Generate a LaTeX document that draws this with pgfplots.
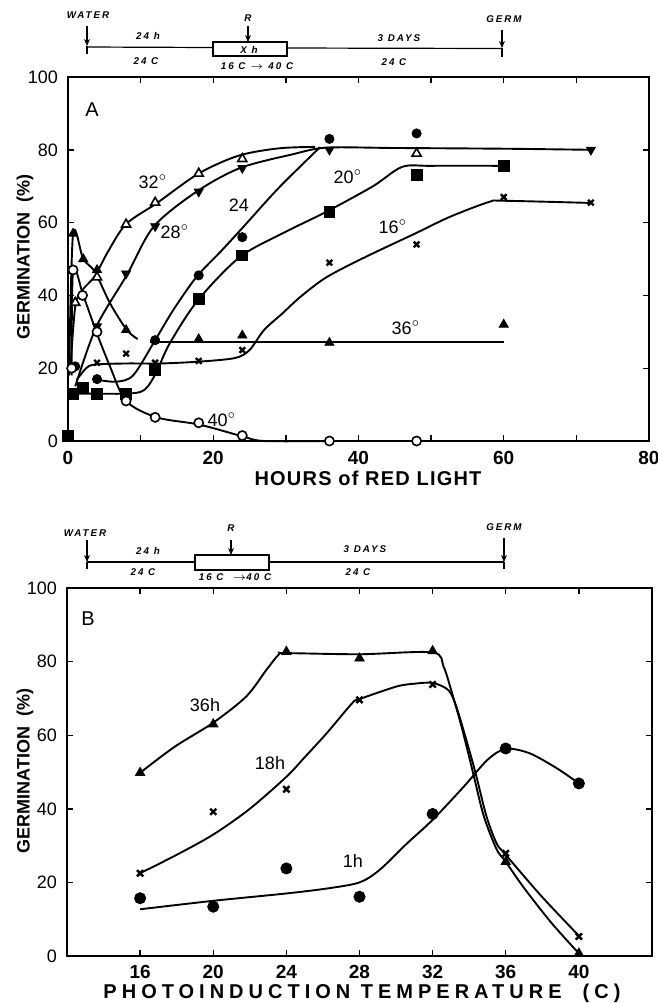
\documentclass[border=0pt]{standalone}
\usepackage{fontspec}
\setmainfont{Liberation Sans}
\usepackage{pgfplots}
\pgfplotsset{compat=1.18}
\usetikzlibrary{arrows.meta}
\newfontfamily\tlfont[LetterSpace=20]{Liberation Sans}
\newfontfamily\labfont[LetterSpace=6]{Liberation Sans}
\newfontfamily\labfontb[LetterSpace=25]{Liberation Sans}

\pgfplotsset{
  panel/.style={
    scale only axis, clip=false,
    axis line style={line width=1.1pt},
    tick align=inside, major tick length=3pt, minor tick length=3pt,
    tick style={line width=0.7pt, black},
    ymin=0, ymax=100, ytick={0,20,...,100},
    /pgf/number format/assume math mode=true,
    yticklabel style={font=\fontsize{9}{10}\selectfont, xshift=-1.5pt},
    xticklabel style={font=\fontsize{9.5}{10}\selectfont\bfseries, yshift=-1.5pt},
  },
  crv/.style={black, line width=0.95pt, smooth, no markers},
  pts/.style={only marks, black, mark size=#1},
  pts/.default=2.6pt,
}

\begin{document}
\begin{tikzpicture}
\path[use as bounding box] (0,0) rectangle (329pt,-501.5pt);

% ---------------- Panel A ----------------
\begin{axis}[panel, at={(34pt,-220.5pt)}, anchor=south west,
  width=290.5pt, height=182pt,
  xmin=0, xmax=80, xtick={0,20,...,80}, minor xtick={10,30,50,70}]
% 32 deg curve
\addplot[crv] coordinates {(0.3,19) (1,37) (2,41.5) (3.7,45.3) (5.5,52) (8,59.6) (12.2,65.3) (18,73.5) (23.5,78.4) (29,80.4) (34,80.8)};
% 28 deg curve + plateau
\addplot[crv] coordinates {(1,15) (3.9,31.4) (8.1,45.6) (11.8,58.9) (17.7,68.5) (23.7,75) (31,78.8) (35.6,80.6) (45,80.5) (60,80.3) (72,80)};
% 24 deg curve
\addplot[crv] coordinates {(4.1,16.8) (6.7,16.3) (9,18.1) (12,27.7) (14.5,36) (17.7,45.1) (21,52) (24,58.5) (29,69.5) (34.7,80.7)};
% 20 deg curve
\addplot[crv] coordinates {(0.7,13) (4,13) (8,13) (10,13.5) (11,15) (12.2,19) (14,26.8) (17.9,38.7) (23.7,50.6) (30,57.5) (35.6,63) (42,70) (46,75.3) (50,75.6) (60,75.6)};
% 16 deg curve
\addplot[crv] coordinates {(1.2,16.8) (2.5,20) (3.7,21) (8,21.3) (12.7,21.3) (18,21.8) (23,22.8) (25,25) (27,30.5) (29.5,35) (32,39.6) (35.6,45) (41,50.6) (47.8,57) (52.6,61.6) (58,65.7) (60,66) (72,65.4)};
% 36 deg curve
\addplot[crv] coordinates {(0.15,18) (0.7,57) (2.1,50) (3.7,46.5) (5.8,37.8) (8.1,30.5) (9.6,28)};
\addplot[black, line width=0.95pt] coordinates {(11.3,27.3) (60,27.3)};
% 40 deg curve
\addplot[crv] coordinates {(0.5,18) (0.7,47) (2.1,40) (3.9,30) (5.8,20.4) (8,11) (12.2,6.5) (18.1,4.5) (24,1.3) (27,0) (36,0)};

% data points
\addplot[pts, mark=triangle*, mark options={fill=white, line width=0.8pt}] coordinates {(1,38) (4,45) (8,59.5) (12,65.5) (18,73.5) (24,77.5) (48,79)};
\addplot[pts, mark=triangle*, mark options={rotate=180, fill=black}] coordinates {(4,31.5) (8,46) (12,59) (18,68.5) (24,75) (36,80) (72,80)};
\addplot[pts=2.3pt, mark=*] coordinates {(1,20.5) (4,17) (12,27.7) (18,45.5) (24,56) (36,83) (48,84.5)};
\addplot[pts=2.7pt, mark=square*] coordinates {(0,1.5) (0.7,13) (2,14.5) (4,13) (8,13) (12,19.5) (18,39) (24,51) (36,63) (48,73) (60,75.5)};
\addplot[pts=2pt, mark=x, mark options={line width=1.2pt}] coordinates {(4,21.5) (8,24) (12,21.5) (18,22) (24,25) (36,49) (48,54) (60,67) (72,65.5)};
\addplot[pts=2.6pt, mark=triangle*] coordinates {(0.7,57) (2.1,50) (4,47) (8,30.5) (18,28) (24,29) (36,27) (60,32)};
\addplot[pts=2.3pt, mark=*, mark options={fill=white, line width=0.8pt}] coordinates {(0.5,20) (0.7,47) (2,40) (4,30) (8,11) (12,6.5) (18,5) (24,1.5) (36,0) (48,0)};
\end{axis}

% ---------------- Panel B ----------------
\begin{axis}[panel, at={(33.5pt,-478pt)}, anchor=south west,
  width=292.5pt, height=184pt,
  xmin=12, xmax=44, xtick={16,20,...,40},
  xticklabel style={yshift=0.5pt}]
\addplot[crv] coordinates {(16,49.8) (17.9,56.9) (20,63.4) (21.8,70.5) (22.9,77.7) (23.6,82) (24,82.3) (28,82) (32,82.5) (32.6,78.6) (33,72.5) (33.6,62) (34.2,50) (34.8,38) (35.5,29) (36,25.6) (37,18.5) (38.5,9) (40,0.7)};
\addplot[crv] coordinates {(16,22.5) (18,27.5) (20,33) (22,40) (24,48.7) (25,54) (26.2,60.5) (27.6,68.7) (28,69.8) (30,73.2) (31,74) (32,74.2) (32.85,72.3) (33.3,67.7) (34,56) (34.4,48.7) (34.95,37.9) (35.5,30.6) (36,27.5) (38,16) (40,5.5)};
\addplot[crv] coordinates {(16,12.7) (20,15) (24,17) (26.3,18.4) (28,20) (29.1,23.4) (30.6,30.6) (32,37) (33.7,46) (35,53.3) (36,56.3) (37.3,55.1) (38.8,51) (40,46.9)};

\addplot[pts=2.7pt, mark=triangle*] coordinates {(16,49.8) (20,63) (24,82.7) (28,80.9) (32,82.9) (36,25.6) (40,0.7)};
\addplot[pts=2.2pt, mark=x, mark options={line width=1.2pt}] coordinates {(16,22.5) (20,39.2) (24,45.3) (28,69.6) (32,73.8) (36,27.9) (40,5.3)};
\addplot[pts=2.8pt, mark=*] coordinates {(16,15.7) (20,13.4) (24,23.8) (28,16.1) (32,38.6) (36,56.4) (40,46.9)};
\end{axis}

% ---------------- annotations (pixel coordinates) ----------------
\begin{scope}[x=0.5pt,y=-0.5pt]
  \tikzset{tl/.style={font=\tlfont\fontsize{4.9}{5.5}\selectfont\bfseries\itshape, inner sep=0pt},
           arr/.style={-{Stealth[length=3.5pt,width=3pt]}, line width=0.6pt},
           lbl/.style={font=\fontsize{9}{10}\selectfont, inner sep=0pt}}
  % timeline A
  \node[tl] at (88,15) {WATER};
  \draw[arr] (87,26) -- (87,46);
  \draw[line width=0.6pt] (87,46) -- (87,54);
  \draw[line width=0.6pt] (87,47) -- (213,47.5);
  \draw[line width=0.7pt] (213,42) rectangle (287,56);
  \draw[line width=0.6pt] (287,48) -- (502,48.5);
  \node[tl] at (248,18) {R};
  \draw[arr] (248,26) -- (248,42);
  \node[tl] at (249,49.5) {X h};
  \node[tl] at (148,36) {24 h};
  \node[tl] at (146,61) {24 C};
  \node[tl] at (257,66) {16 C $\rightarrow$ 40 C};
  \node[tl] at (399,38) {3 DAYS};
  \node[tl] at (394,62) {24 C};
  \node[tl] at (504,19) {GERM};
  \draw[arr] (502,30) -- (502,48);
  \draw[line width=0.6pt] (502,48) -- (502,57);
  % timeline B
  \node[tl] at (85,533) {WATER};
  \draw[arr] (87,540) -- (87,562);
  \draw[line width=0.6pt] (87,562) -- (87,569);
  \draw[line width=0.6pt] (87,562) -- (195,562);
  \draw[line width=0.7pt] (195,555) rectangle (269,570);
  \draw[line width=0.6pt] (269,562) -- (504,562);
  \node[tl] at (231,528) {R};
  \draw[arr] (231,540) -- (231,555);
  \node[tl] at (148,551) {24 h};
  \node[tl] at (143,572) {24 C};
  \node[tl] at (235,577) {16 C \ $\rightarrow$40 C};
  \node[tl] at (365,549) {3 DAYS};
  \node[tl] at (358,572) {24 C};
  \node[tl] at (504,527) {GERM};
  \draw[arr] (504,538) -- (504,562);
  \draw[line width=0.6pt] (504,562) -- (504,569);

  % axis labels
  \node[font=\labfont\fontsize{10}{11}\selectfont\bfseries] at (368,478) {HOURS of RED LIGHT};
  \node[font=\labfontb\fontsize{10}{11}\selectfont\bfseries] at (362,993) {PHOTOINDUCTION TEMPERATURE \ (C)};
  \node[font=\fontsize{9}{10}\selectfont\bfseries, rotate=90] at (25,257) {GERMINATION \ (\%)};
  \node[font=\fontsize{9}{10}\selectfont\bfseries, rotate=90] at (25,771) {GERMINATION \ (\%)};

  % panel letters
  \node[lbl, font=\fontsize{10}{11}\selectfont] at (92,110) {A};
  \node[lbl, font=\fontsize{10}{11}\selectfont] at (88,619) {B};

  % in-plot labels A
  \node[lbl] at (153,182) {32$^{\circ}$};
  \node[lbl] at (175,232) {28$^{\circ}$};
  \node[lbl] at (239,205) {24};
  \node[lbl] at (348,177) {20$^{\circ}$};
  \node[lbl] at (393,227) {16$^{\circ}$};
  \node[lbl] at (406,328) {36$^{\circ}$};
  \node[lbl] at (222,420) {40$^{\circ}$};
  % in-plot labels B
  \node[lbl] at (205,705) {36h};
  \node[lbl] at (270,763) {18h};
  \node[lbl] at (353,861) {1h};
\end{scope}
\end{tikzpicture}
\end{document}
